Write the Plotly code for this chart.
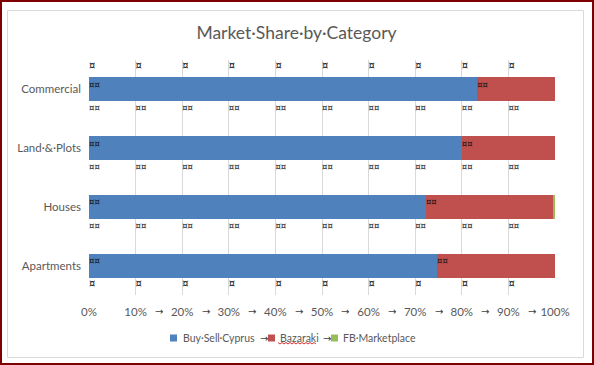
import plotly.graph_objects as go

# ---- data ----
categories = ["Apartments", "Houses", "Land·&·Plots", "Commercial"]
buy_sell_cyprus = [74.7, 72.3, 80.0, 83.3]
bazaraki = [25.3, 27.3, 20.0, 16.7]
fb_marketplace = [0.0, 0.4, 0.0, 0.0]
series_names = ["Buy·Sell·Cyprus", "Bazaraki", "FB·Marketplace"]
series_colors = ["#4F81BD", "#C0504D", "#9BBB59"]
tick_vals = [0, 10, 20, 30, 40, 50, 60, 70, 80, 90, 100]
tick_text = ["0%", "10%", "20%", "30%", "40%", "50%", "60%", "70%", "80%", "90%", "100%"]
title_text = "Market·Share·by·Category"

W, H = 594, 365
ML, MR, MT, MB = 89, 39, 60, 70
PW, PH = W - ML - MR, H - MT - MB
FONT = "Lato"
GREY = "#595959"


def px(x):
    return (x - ML) / PW


def py(y):
    return (H - MB - y) / PH


cat_pos = list(range(len(categories)))

fig = go.Figure()
for name, vals, col in zip(series_names, [buy_sell_cyprus, bazaraki, fb_marketplace], series_colors):
    fig.add_trace(go.Bar(y=cat_pos, x=vals, name=name, orientation="h",
                         marker=dict(color=col, line=dict(width=0)), showlegend=False,
                         hoverinfo="x+name"))

# formatting-mark glyphs visible in the screenshot (table cell markers)
grid_pos = tick_vals[:-1]
mx, my, mt, ms = [], [], [], []
for gx in grid_pos:
    mx.append(gx); my.append(3 + 0.39); mt.append("¤"); ms.append(10)
    mx.append(gx); my.append(0 - 0.32); mt.append("¤"); ms.append(10)
    for ci in (3, 2, 1):
        mx.append(gx); my.append(ci - 0.34); mt.append("¤¤"); ms.append(8.5)
for ci, v in enumerate(buy_sell_cyprus):
    mx.append(0); my.append(ci + 0.06); mt.append("¤¤"); ms.append(8.5)
    mx.append(v); my.append(ci + 0.06); mt.append("¤¤"); ms.append(8.5)
fig.add_trace(go.Scatter(x=mx, y=my, mode="text", text=mt, textposition="middle right",
                         textfont=dict(size=ms, color="#111111", family="DejaVu Sans"),
                         showlegend=False, hoverinfo="skip", cliponaxis=False))

shapes = []
# outer dark red frame and inner grey chart-area border
shapes.append(dict(type="rect", xref="paper", yref="paper",
                   x0=px(1), x1=px(593), y0=py(1), y1=py(364),
                   line=dict(color="#7F0000", width=2), layer="below"))
shapes.append(dict(type="rect", xref="paper", yref="paper",
                   x0=px(7.5), x1=px(583.5), y0=py(10.5), y1=py(357.5),
                   line=dict(color="#D9D9D9", width=1), layer="below"))

annotations = []
# tab arrows between x tick labels
for a, b in zip(tick_vals[1:-1], tick_vals[2:]):
    annotations.append(dict(x=(a + b) / 2, y=py(311.5), xref="x", yref="paper",
                            yanchor="middle", text="→", showarrow=False,
                            font=dict(family="DejaVu Sans", size=10, color="#404040")))

# custom legend
leg_y = 338
sq_x = [170, 268, 331]
txt_x = [181, 278, 341]
for sx, tx, name, col in zip(sq_x, txt_x, series_names, series_colors):
    shapes.append(dict(type="rect", xref="paper", yref="paper",
                       x0=px(sx), x1=px(sx + 7), y0=py(leg_y - 3.5), y1=py(leg_y + 3.5),
                       fillcolor=col, line=dict(width=0)))
    annotations.append(dict(x=px(tx), y=py(leg_y), xref="paper", yref="paper",
                            xanchor="left", yanchor="middle", text=name, showarrow=False,
                            font=dict(family=FONT, size=10.5, color=GREY)))
for ax in (264, 327):
    annotations.append(dict(x=px(ax), y=py(leg_y), xref="paper", yref="paper",
                            yanchor="middle", text="→", showarrow=False,
                            font=dict(family="DejaVu Sans", size=10, color="#404040")))
# spell-check squiggle under "Bazaraki"
pts = []
xx = 278
k = 0
while xx <= 316:
    yy = 343 + (1 if k % 2 else -0.5)
    pts.append(f"{px(xx):.5f},{py(yy):.5f}")
    xx += 2
    k += 1
shapes.append(dict(type="path", xref="paper", yref="paper",
                   path="M" + " L".join(pts), line=dict(color="#E03030", width=1)))

fig.update_layout(
    width=W, height=H,
    margin=dict(l=ML, r=MR, t=MT, b=MB, autoexpand=False),
    paper_bgcolor="white", plot_bgcolor="white",
    barmode="stack", bargap=0.59,
    title=dict(text=title_text, x=px(296.5), xref="paper", xanchor="center",
               y=1 - 33 / H, yanchor="middle",
               font=dict(family=FONT, size=17.5, color=GREY)),
    xaxis=dict(range=[0, 100], tickvals=tick_vals, ticktext=tick_text,
               showgrid=True, gridcolor="#D9D9D9", gridwidth=1, zeroline=False,
               showline=False, ticks="", ticklabelstandoff=8, automargin=False,
               tickfont=dict(family=FONT, size=11.5, color=GREY), fixedrange=True),
    yaxis=dict(range=[-0.5, len(categories) - 0.5], tickvals=cat_pos, ticktext=categories,
               showgrid=False, zeroline=False, showline=False, ticks="",
               ticklabelstandoff=7, automargin=False,
               tickfont=dict(family=FONT, size=11.5, color=GREY), fixedrange=True),
    shapes=shapes, annotations=annotations, showlegend=False,
)

fig.write_html("out.html", config={"displayModeBar": False},
               post_script="document.body.style.margin='0';document.body.style.padding='0';")
